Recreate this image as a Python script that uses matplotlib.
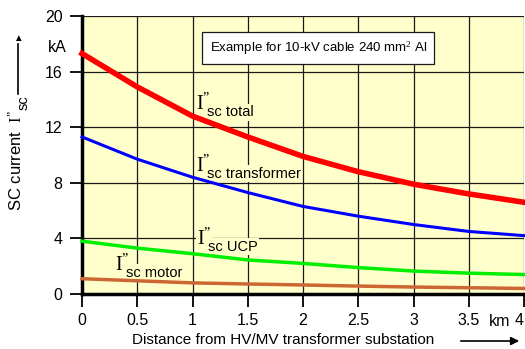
import matplotlib
matplotlib.use("Agg")
import matplotlib.pyplot as plt

plt.rcParams['font.family'] = ['Liberation Sans', 'DejaVu Sans']
plt.rcParams['mathtext.fontset'] = 'custom'
plt.rcParams['mathtext.rm'] = 'Liberation Serif'
plt.rcParams['mathtext.sf'] = 'Liberation Sans'
plt.rcParams['mathtext.it'] = 'Liberation Serif:italic'

# distance from HV/MV substation in km
distance = [0, 0.5, 1, 1.5, 2, 2.5, 3, 3.5, 4]
# short-circuit currents in kA
i_total = [17.3, 14.9, 12.8, 11.3, 9.9, 8.8, 7.9, 7.2, 6.6]
i_transformer = [11.3, 9.7, 8.4, 7.3, 6.3, 5.6, 5.0, 4.5, 4.2]
i_ucp = [3.8, 3.3, 2.9, 2.45, 2.2, 1.9, 1.65, 1.5, 1.4]
i_motor = [1.1, 0.95, 0.8, 0.72, 0.65, 0.57, 0.5, 0.45, 0.4]

x_ticks = [0, 0.5, 1, 1.5, 2, 2.5, 3, 3.5, 4]
x_tick_labels = ['0', '0.5', '1', '1.5', '2', '2.5', '3', '3.5', '4']
y_ticks = [0, 4, 8, 12, 16, 20]

bg = '#ffffcc'
i_pp = r'$\mathrm{I}^{\mathrm{' + '\u201d' + '}}$'

fig = plt.figure(figsize=(5.25, 3.49), dpi=100)
ax = fig.add_axes([82 / 525, 1 - 294 / 349, 442 / 525, 278 / 349])
ax.set_facecolor(bg)

ax.set_xlim(0, 4)
ax.set_ylim(0, 20)
ax.set_xticks(x_ticks)
ax.set_xticklabels(x_tick_labels)
ax.set_yticks(y_ticks)
ax.grid(True, color='#1a1a1a', linewidth=0.9, zorder=1)
ax.set_axisbelow(True)

for s in ['top', 'right']:
    ax.spines[s].set_visible(False)
for s in ['left', 'bottom']:
    ax.spines[s].set_linewidth(2.5)
ax.tick_params(axis='both', direction='out', length=9, width=1.3, labelsize=11.5, pad=5)
ax.get_xticklabels()[-1].set_horizontalalignment('right')

ax.plot(distance, i_motor, color='#cc6633', lw=2.5, zorder=3, clip_on=False)
ax.plot(distance, i_ucp, color='#00ee00', lw=2.5, zorder=3, clip_on=False)
ax.plot(distance, i_transformer, color='#0000ff', lw=2.2, zorder=3, clip_on=False)
ax.plot(distance, i_total, color='#ff0000', lw=4, zorder=3, clip_on=False)

# curve labels: I" in serif, subscript in sans
def curve_label(x, y, sub):
    ax.text(x, y, i_pp, fontsize=14.5, ha='left', va='baseline', zorder=2,
            bbox=dict(boxstyle='square,pad=0.05', fc=bg, ec='none'))
    ax.annotate(sub, (x, y), xytext=(8, -4.5), textcoords='offset points', fontsize=10.5,
                ha='left', va='baseline', zorder=2,
                bbox=dict(boxstyle='square,pad=0.1', fc=bg, ec='none'))

curve_label(1.03, 13.25, 'sc total')
curve_label(1.03, 8.8, 'sc transformer')
curve_label(1.04, 3.55, 'sc UCP')
curve_label(0.3, 1.7, 'sc motor')

ax.text(2.14, 17.7, 'Example for 10-kV cable 240 mm$^2$ Al', fontsize=9.5, ha='center', va='center',
        zorder=5, bbox=dict(boxstyle='square,pad=0.55', fc='white', ec='#1a1a1a', lw=0.9))

# units
fig.text(57 / 525, 1 - 47 / 349, 'kA', fontsize=11.5, ha='center', va='center')
fig.text(500 / 525, 1 - 321 / 349, 'km', fontsize=11.5, ha='center', va='center')

# axis titles with arrows
fig.text(25 / 525, 1 - 110 / 349, 'SC current  ' + i_pp, fontsize=12, rotation=90,
         ha='right', va='top')
fig.text(24 / 525, 1 - 103 / 349, 'sc', fontsize=10.5, rotation=90, ha='center', va='center')
fig.add_artist(plt.Line2D([18 / 525, 18 / 525], [1 - 94 / 349, 1 - 44 / 349], color='black', lw=1.2))
fig.text(18 / 525, 1 - 38 / 349, '\u25b2', fontsize=7, ha='center', va='center')

fig.text(283 / 525, 1 - 340 / 349, 'Distance from HV/MV transformer substation', fontsize=11,
         ha='center', va='center')
ax.annotate('', xy=(522 / 525, 1 - 341 / 349), xytext=(458 / 525, 1 - 341 / 349),
            xycoords='figure fraction', textcoords='figure fraction',
            arrowprops=dict(arrowstyle='-|>', color='black', lw=1.2, mutation_scale=12))

fig.savefig('out.png', dpi=100)
